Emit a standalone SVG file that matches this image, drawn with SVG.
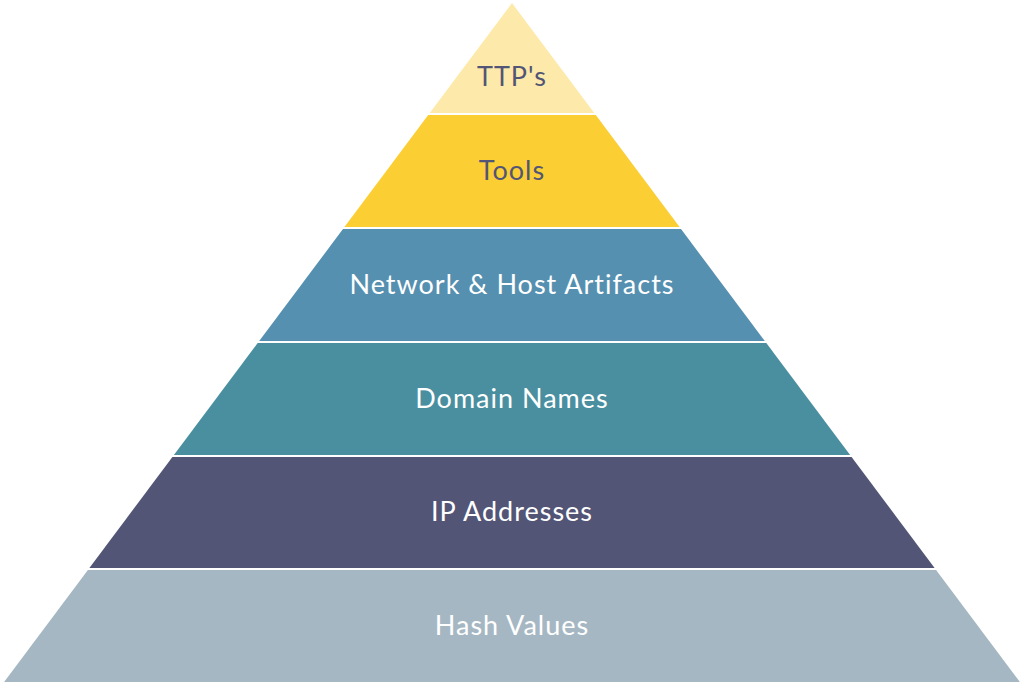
<svg xmlns="http://www.w3.org/2000/svg" width="1024" height="684" viewBox="0 0 1024 684">
<style>
.lbl{font-family:Lato,"Open Sans","DejaVu Sans",sans-serif;font-size:27px;letter-spacing:1px;text-anchor:middle}
.dk{fill:#525575}
.lt{fill:#ffffff}
</style>
<rect width="1024" height="684" fill="#ffffff"/>
<g id="ttps">
<polygon points="512,3 594.3,113 429.7,113" fill="#FDEAAB"/>
<text class="lbl dk" x="512" y="86">TTP's</text>
</g>
<g id="tools">
<polygon points="428.2,115 595.8,115 679.6,227 344.4,227" fill="#FBCE34"/>
<text class="lbl dk" x="512" y="180">Tools</text>
</g>
<g id="network">
<polygon points="343,229 681,229 764.8,341 259.2,341" fill="#5590B0"/>
<text class="lbl lt" x="512" y="294">Network &amp; Host Artifacts</text>
</g>
<g id="domain">
<polygon points="257.7,343 766.3,343 850.1,455 173.9,455" fill="#4A8F9F"/>
<text class="lbl lt" x="512" y="408">Domain Names</text>
</g>
<g id="ip">
<polygon points="172.4,457 851.6,457 934.6,568 89.4,568" fill="#525575"/>
<text class="lbl lt" x="512" y="521">IP Addresses</text>
</g>
<g id="hash">
<polygon points="87.9,570 936.1,570 1019.9,682 4.1,682" fill="#A6B7C4"/>
<text class="lbl lt" x="512" y="635">Hash Values</text>
</g>
<g id="connectors"></g>
</svg>
